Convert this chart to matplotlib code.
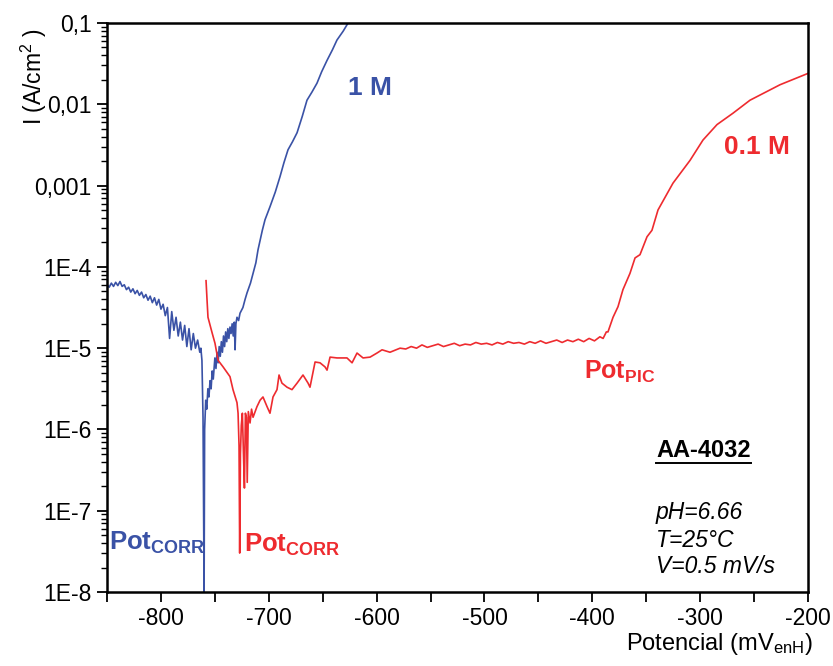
import numpy as np
import matplotlib
matplotlib.use("Agg")
import matplotlib.pyplot as plt
from matplotlib.ticker import FixedLocator, FuncFormatter, LogLocator, NullFormatter

plt.rcParams['font.family'] = ['Liberation Sans', 'DejaVu Sans']
plt.rcParams['mathtext.fontset'] = 'custom'
plt.rcParams['mathtext.rm'] = 'Liberation Sans'
plt.rcParams['mathtext.bf'] = 'Liberation Sans:bold'
plt.rcParams['mathtext.it'] = 'Liberation Sans:italic'
plt.rcParams['axes.unicode_minus'] = False

#========= datos (potencial mV, log10 I) =========
# 1 M - rama catodica (ruidosa) y anodica
blue_E = [-850, -848, -846, -844, -842, -840, -838, -836, -834, -832, -830, -828, -826, -824,
          -822, -820, -818, -816, -814, -812, -810, -808, -806, -804, -802, -800, -798, -796,
          -794, -792, -790, -788, -786, -784, -782, -780, -778, -776, -774, -772, -770, -768,
          -766, -764, -763, -762, -761, -760,
          -759.5, -758.5, -757.5, -756.5, -755.5, -754.5, -753.5, -752.5, -751.5, -750, -749,
          -748, -747, -746, -745, -744, -743, -742, -741, -740, -739, -738, -737, -736, -735,
          -734, -733, -732, -731.3, -730.5, -729.5, -728, -726.7, -724, -722, -720.2, -717,
          -714.6, -712, -710, -706, -703.5, -698.9, -694, -689.6, -686, -682.2, -678, -673.8,
          -669, -664.6, -660, -655.3, -651, -646, -641, -636.8, -631, -626.5]
blue_logI = [-4.22, -4.25, -4.20, -4.24, -4.19, -4.23, -4.18, -4.24, -4.22, -4.28, -4.25, -4.31,
             -4.27, -4.33, -4.29, -4.35, -4.31, -4.38, -4.34, -4.41, -4.36, -4.44, -4.38, -4.47,
             -4.40, -4.52, -4.46, -4.60, -4.50, -4.88, -4.55, -4.78, -4.62, -4.85, -4.68, -4.90,
             -4.72, -4.98, -4.76, -5.02, -4.82, -5.00, -4.90, -5.05, -5.00, -5.15, -5.85, -8.0,
             -6.0, -5.64, -5.75, -5.50, -5.60, -5.40, -5.50, -5.28, -5.38, -5.12, -5.25,
             -5.05, -5.18, -4.98, -5.10, -4.92, -5.05, -4.85, -4.98, -4.80, -4.92, -4.76, -4.88,
             -4.74, -4.82, -4.70, -4.85, -4.68, -5.02, -4.70, -4.62, -4.66, -4.57, -4.50, -4.40,
             -4.32, -4.20, -4.08, -3.95, -3.79, -3.55, -3.42, -3.26, -3.08, -2.89, -2.72, -2.56,
             -2.46, -2.35, -2.15, -1.95, -1.85, -1.74, -1.60, -1.46, -1.33, -1.21, -1.10, -1.0]

# 0.1 M
red_E = [-758.2, -757.3, -756.4, -752.6, -749.9, -747.0, -742.4, -736.0, -733.2, -729.5, -728.5,
         -727.6, -727.0, -726.3, -725.5, -724.5, -723.5, -722.6, -721.7, -720.8, -720.0, -719.0,
         -717.4, -716.0, -714.6, -711.0, -708.1, -705.4, -701.6, -698.9, -696.1, -692.4, -690.5,
         -687.8, -683.1, -678.5, -673.8, -668.3, -663.6, -661.8, -657.1, -652.5, -647.9, -646.0,
         -643.2, -636.8, -627.5, -622.8, -618.2, -612.6, -606.1, -599.7, -595.0, -587.6, -578.3,
         -573, -568, -563, -558, -553, -548, -543, -538, -533, -528, -523, -518, -513, -508,
         -503, -498, -493, -488, -483, -478, -473, -468, -463, -458, -453, -448, -443, -438,
         -433, -428, -423, -418, -413, -408, -403, -398, -393, -390, -387, -385.5,
         -380.8, -376.2, -371.6, -365.1, -360.4, -355.8, -349.3, -344.7, -339.1, -325.2,
         -309.4, -297.4, -284.4, -269.6, -253.8, -226, -200]
red_logI = [-4.17, -4.40, -4.62, -4.81, -4.94, -5.15, -5.23, -5.35, -5.51, -5.67, -5.80,
            -6.20, -7.52, -6.30, -5.95, -5.80, -6.30, -6.72, -5.80, -5.85, -6.65, -5.78,
            -5.92, -5.75, -5.85, -5.72, -5.64, -5.60, -5.72, -5.80, -5.60, -5.51, -5.33,
            -5.43, -5.48, -5.51, -5.43, -5.33, -5.43, -5.48, -5.17, -5.18, -5.23, -5.27,
            -5.11, -5.12, -5.12, -5.18, -5.06, -5.12, -5.11, -5.06, -5.02, -5.05, -5.00,
            -5.01, -4.98, -5.00, -4.96, -4.99, -4.97, -4.95, -4.98, -4.96, -4.94, -4.97, -4.95,
            -4.96, -4.93, -4.95, -4.94, -4.96, -4.93, -4.95, -4.92, -4.94, -4.93, -4.95, -4.92,
            -4.94, -4.91, -4.94, -4.92, -4.90, -4.93, -4.90, -4.92, -4.89, -4.92, -4.88, -4.91,
            -4.86, -4.88, -4.80, -4.80,
            -4.62, -4.49, -4.28, -4.08, -3.89, -3.85, -3.63, -3.55, -3.30, -2.97,
            -2.69, -2.44, -2.25, -2.11, -1.95, -1.76, -1.62]

y_ticks = [1e-8, 1e-7, 1e-6, 1e-5, 1e-4, 1e-3, 1e-2, 1e-1]
y_tick_labels = ['1E-8', '1E-7', '1E-6', '1E-5', '1E-4', '0,001', '0,01', '0,1']
x_ticks = [-800, -700, -600, -500, -400, -300, -200]

blue = '#3a52a6'
red = '#ee2b2f'

fig = plt.figure(figsize=(8.33, 6.66), dpi=100)
ax = fig.add_axes([0.1285, 0.111, 0.8415, 0.8545])

ax.plot(blue_E, 10**np.array(blue_logI), color=blue, lw=1.2)
ax.plot(red_E, 10**np.array(red_logI), color=red, lw=1.2)

ax.set_yscale('log')
ax.set_xlim(-850, -200)
ax.set_ylim(1e-8, 1e-1)

def etiqueta_y(v, p):
    k = int(np.argmin([abs(np.log10(t) - np.log10(v)) for t in y_ticks]))
    return y_tick_labels[k]

ax.yaxis.set_major_locator(FixedLocator(y_ticks))
ax.yaxis.set_major_formatter(FuncFormatter(etiqueta_y))
ax.yaxis.set_minor_locator(LogLocator(base=10, subs=np.arange(2, 10)))
ax.yaxis.set_minor_formatter(NullFormatter())
ax.xaxis.set_major_locator(FixedLocator(x_ticks))
ax.xaxis.set_minor_locator(FixedLocator([-850, -750, -650, -550, -450, -350, -250]))

ax.tick_params(which='major', length=7, width=1.3, labelsize=16.5, direction='out', pad=4)
ax.tick_params(which='minor', length=4, width=1.0, direction='out')
ax.tick_params(axis='x', which='minor', length=7, width=1.3)
for s in ax.spines.values():
    s.set_linewidth(1.8)

ax.set_xlabel(r'Potencial (mV$_{\mathregular{enH}}$)', fontsize=17)
ax.xaxis.set_label_coords(1.007, -0.068)
ax.xaxis.label.set_ha('right')
ax.set_ylabel(r'I (A/cm$^{\mathregular{2}}$ )', fontsize=16.5)
ax.yaxis.set_label_coords(-0.083, 0.905)

ax.text(-606, 10**-1.80, '1 M', color=blue, fontsize=19, fontweight='bold', ha='center', va='center')
ax.text(-247, 10**-2.53, '0.1 M', color=red, fontsize=19, fontweight='bold', ha='center', va='center')
ax.text(-408, 10**-5.29, r'$\mathbf{Pot_{PIC}}$', color=red, fontsize=18, ha='left', va='center')
ax.text(-848, 10**-7.40, r'$\mathbf{Pot_{CORR}}$', color=blue, fontsize=18.5, ha='left', va='center')
ax.text(-723, 10**-7.42, r'$\mathbf{Pot_{CORR}}$', color=red, fontsize=18.5, ha='left', va='center')

t_aa = ax.text(-341, 10**-6.26, 'AA-4032', fontsize=17, fontweight='bold', ha='left', va='center')
ax.text(-341, 10**-7.02, 'pH=6.66', fontsize=16.5, style='italic', ha='left', va='center')
ax.text(-341, 10**-7.36, 'T=25°C', fontsize=16.5, style='italic', ha='left', va='center')
ax.text(-341, 10**-7.69, 'V=0.5 mV/s', fontsize=16.5, style='italic', ha='left', va='center')

# subrayado de AA-4032
fig.canvas.draw()
bb = t_aa.get_window_extent().transformed(ax.transData.inverted())
ax.plot([bb.x0, bb.x1], [10**-6.41, 10**-6.41], color='k', lw=1.4)

fig.savefig('out.png', dpi=100)
